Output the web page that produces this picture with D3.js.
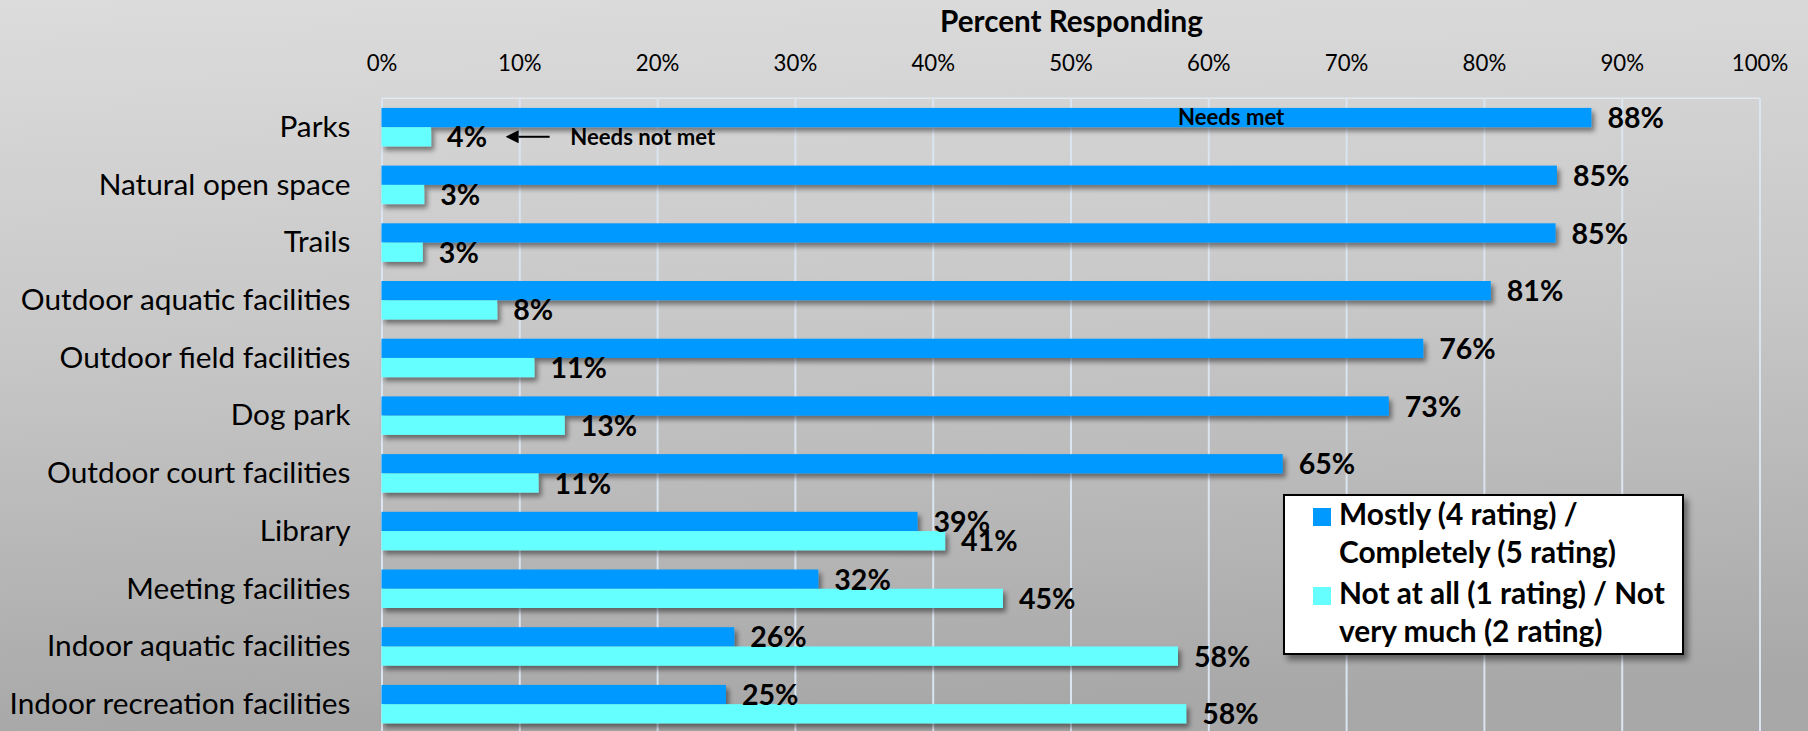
<!DOCTYPE html>
<html><head><meta charset="utf-8">
<script src="https://cdn.jsdelivr.net/npm/d3@7"></script>
<style>html,body{margin:0;padding:0;overflow:hidden;background:#ccc} svg{display:block}</style>
</head><body>
<svg id="chart" width="1808" height="731"></svg>
<script>
// ---- data ----
const categories = ["Parks","Natural open space","Trails","Outdoor aquatic facilities","Outdoor field facilities","Dog park","Outdoor court facilities","Library","Meeting facilities","Indoor aquatic facilities","Indoor recreation facilities"];
const needsMet    = [87.8, 85.3, 85.2, 80.5, 75.6, 73.1, 65.4, 38.9, 31.7, 25.6, 25.0];
const needsNotMet = [3.6, 3.1, 3.0, 8.4, 11.1, 13.3, 11.4, 40.9, 45.1, 57.8, 58.4];
const seriesKeys = ["met", "notMet"];
const legendLines = [["Mostly (4 rating) /", "Completely (5 rating)"], ["Not at all (1 rating) / Not", "very much (2 rating)"]];
const seriesColors = ["#0099FF", "#66FFFF"];
const xTicks = [0, 10, 20, 30, 40, 50, 60, 70, 80, 90, 100];
const axisTitle = "Percent Responding";
const noteMet = "Needs met";
const noteNotMet = "Needs not met";

// ---- layout ----
const W = 1808, H = 731;
const plotLeft = 381.5, plotRight = 1759.5, plotTop = 98.3;
const step = 57.7;
const svg = d3.select("#chart");
const FONT = "Lato, 'Open Sans', sans-serif";

function fitSize(text, weight, target) {
  const t = svg.append("text").attr("font-family", FONT).attr("font-weight", weight)
    .attr("font-size", 100).text(text);
  const w = t.node().getComputedTextLength();
  t.remove();
  return 100 * target / w;
}
const fsCat = fitSize("Indoor recreation facilities", 400, 341);
const fsTick = fitSize("100%", 400, 56.5);
const fsTitle = fitSize(axisTitle, 700, 263);
const fsVal = fitSize("88%", 700, 56.5);
const fsNote = fitSize(noteNotMet, 700, 145);
const fsLeg = fitSize("Completely (5 rating)", 700, 277);

const defs = svg.append("defs");
const grad = defs.append("linearGradient").attr("id", "bg").attr("x1", 0).attr("y1", 0).attr("x2", 0.08).attr("y2", 1);
grad.append("stop").attr("offset", 0).attr("stop-color", "#dcdcdc");
grad.append("stop").attr("offset", 0.5).attr("stop-color", "#c6c6c6");
grad.append("stop").attr("offset", 1).attr("stop-color", "#a8a8a8");
const sh = defs.append("filter").attr("id", "shadow").attr("x", "-10%").attr("y", "-30%").attr("width", "130%").attr("height", "180%");
sh.append("feDropShadow").attr("dx", 3).attr("dy", 4).attr("stdDeviation", 2.5)
  .attr("flood-color", "#000").attr("flood-opacity", 0.45);
const sh2 = defs.append("filter").attr("id", "lshadow").attr("x", "-10%").attr("y", "-10%").attr("width", "130%").attr("height", "130%");
sh2.append("feDropShadow").attr("dx", 4).attr("dy", 5).attr("stdDeviation", 3)
  .attr("flood-color", "#000").attr("flood-opacity", 0.45);
const arrowM = defs.append("marker").attr("id", "arrow").attr("viewBox", "0 0 10 10")
  .attr("refX", 0).attr("refY", 5).attr("markerWidth", 7.5).attr("markerHeight", 6.5)
  .attr("markerUnits", "strokeWidth").attr("orient", "auto");
arrowM.append("path").attr("d", "M0,0 L10,5 L0,10 Z").attr("fill", "#000");

svg.append("rect").attr("width", W).attr("height", H).attr("fill", "url(#bg)");

// scales
const x = d3.scaleLinear().domain([0, 100]).range([plotLeft, plotRight]);
const y = d3.scaleBand().domain(categories).range([plotTop, plotTop + step * categories.length])
  .paddingInner(1 / 3).paddingOuter(1 / 6);
const ySub = d3.scaleBand().domain(seriesKeys).range([0, y.bandwidth()]);
const color = d3.scaleOrdinal().domain(seriesKeys).range(seriesColors);

// plot border top
svg.append("line").attr("x1", plotLeft).attr("x2", plotRight).attr("y1", plotTop).attr("y2", plotTop)
  .attr("stroke", "#e4e9f0").attr("stroke-width", 1.5);

// gridlines
const grid = svg.append("g").attr("transform", `translate(0,${plotTop})`)
  .call(d3.axisBottom(x).tickValues(xTicks).tickSize(H - plotTop + 5).tickFormat(""));
grid.select(".domain").remove();
grid.selectAll("line").attr("stroke", "#dbe4f1").attr("stroke-width", 2);

// tick labels
const ax = svg.append("g").attr("transform", "translate(0,70.7)")
  .call(d3.axisTop(x).tickValues(xTicks).tickSize(0).tickPadding(0).tickFormat(d => d + "%"));
ax.select(".domain").remove();
ax.selectAll("text").attr("font-family", FONT).attr("font-size", fsTick).attr("fill", "#000").attr("dy", "0");

// axis title
svg.append("text").attr("x", x(50) + 1).attr("y", 32).attr("text-anchor", "middle")
  .attr("font-family", FONT).attr("font-weight", 700).attr("font-size", fsTitle).attr("fill", "#000")
  .text(axisTitle);

// category labels
svg.append("g").selectAll("text").data(categories).join("text")
  .attr("x", plotLeft - 31).attr("y", d => y(d) + y.bandwidth() / 2)
  .attr("dy", "0.33em").attr("text-anchor", "end")
  .attr("font-family", FONT).attr("font-size", fsCat).attr("fill", "#000").text(d => d);

// bars
const rows = categories.map((c, i) => ({ cat: c, met: needsMet[i], notMet: needsNotMet[i] }));
const gRows = svg.append("g").selectAll("g").data(rows).join("g")
  .attr("transform", d => `translate(0,${y(d.cat)})`);
gRows.selectAll("rect").data(d => seriesKeys.map(k => ({ key: k, value: d[k] }))).join("rect")
  .attr("x", x(0)).attr("y", d => ySub(d.key)).attr("height", ySub.bandwidth())
  .attr("width", d => x(d.value) - x(0)).attr("fill", d => color(d.key))
  .attr("filter", "url(#shadow)");
gRows.selectAll("text").data(d => seriesKeys.map(k => ({ key: k, value: d[k] }))).join("text")
  .attr("x", d => x(d.value) + 16).attr("y", d => ySub(d.key) + ySub.bandwidth() / 2)
  .attr("dy", "0.37em").attr("font-family", FONT).attr("font-weight", 700)
  .attr("font-size", fsVal).attr("fill", "#000").text(d => Math.round(d.value) + "%");

// annotations
const parksY = y(categories[0]);
svg.append("text").attr("x", x(57.8)).attr("y", parksY + ySub("met") + ySub.bandwidth() / 2)
  .attr("dy", "0.33em").attr("font-family", FONT).attr("font-weight", 700)
  .attr("font-size", fsNote).attr("fill", "#000").text(noteMet);
const nmY = parksY + ySub("notMet") + ySub.bandwidth() / 2;
svg.append("text").attr("x", x(13.7)).attr("y", nmY)
  .attr("dy", "0.36em").attr("font-family", FONT).attr("font-weight", 700)
  .attr("font-size", fsNote).attr("fill", "#000").text(noteNotMet);
svg.append("line").attr("x1", x(12.2)).attr("x2", x(9.95)).attr("y1", nmY).attr("y2", nmY)
  .attr("stroke", "#000").attr("stroke-width", 2).attr("marker-end", "url(#arrow)");

// legend
const lg = svg.append("g");
lg.append("rect").attr("x", 1284).attr("y", 495).attr("width", 399).attr("height", 159)
  .attr("fill", "#fff").attr("stroke", "#000").attr("stroke-width", 2).attr("filter", "url(#lshadow)");
const lItems = lg.selectAll("g.item").data(seriesKeys).join("g").attr("class", "item")
  .attr("transform", (d, i) => `translate(1313,${508 + i * 79})`);
lItems.append("rect").attr("width", 18).attr("height", 18).attr("fill", d => color(d));
lItems.append("text").attr("font-family", FONT).attr("font-weight", 700).attr("font-size", fsLeg).attr("fill", "#000")
  .selectAll("tspan").data((d, i) => legendLines[i]).join("tspan")
  .attr("x", 26).attr("y", (d, j) => 17 + j * 38).text(d => d);
</script>
</body></html>
